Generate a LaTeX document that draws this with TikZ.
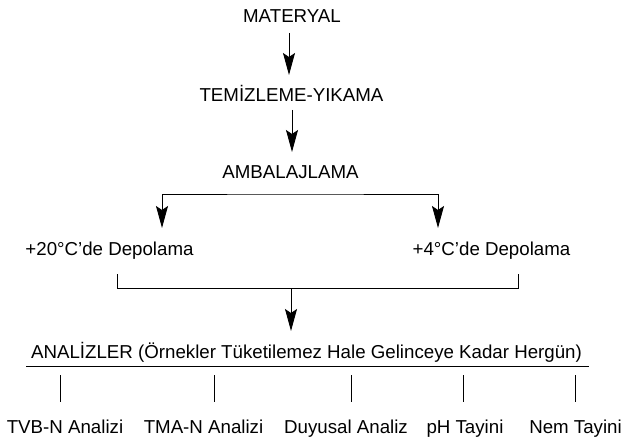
\documentclass[tikz,border=0pt]{standalone}
\usepackage{fontspec}
\setmainfont{Liberation Sans}
\usetikzlibrary{arrows.meta,calc}
\begin{document}
\begin{tikzpicture}[x=1pt,y=-1pt,
  lbl/.style={anchor=base,inner sep=0pt,font=\fontsize{18.7}{22}\selectfont},
  ln/.style={line width=0.9pt,black},
  arr/.style={ln,-{Stealth[length=22pt,width=12pt,inset=4pt]}},
  dbl/.style={ln,{Stealth[length=22pt,width=12pt,inset=4pt]}-{Stealth[length=22pt,width=12pt,inset=4pt]}}]
\useasboundingbox (0,0) rectangle (626,441);
\node[lbl] (mat) at (292,23) {MATERYAL};
\node[lbl] (tem) at (291.5,102) {TEMİZLEME-YIKAMA};
\node[lbl] (amb) at (290.5,178) {AMBALAJLAMA};
\node[lbl] (d20) at (109.5,255) {+20°C’de Depolama};
\node[lbl] (d4) at (491.5,255) {+4°C’de Depolama};
\node[lbl] (an) at (306.5,358) {ANALİZLER (Örnekler Tüketilemez Hale Gelinceye Kadar Hergün)};
\node[lbl] (b1) at (65,433) {TVB-N Analizi};
\node[lbl] (b2) at (203.5,433) {TMA-N Analizi};
\node[lbl] (b3) at (346,433) {Duyusal Analiz};
\node[lbl] (b4) at (465,433) {pH Tayini};
\node[lbl] (b5) at (575.5,433) {Nem Tayini};
% arrows
\draw[arr] ($(mat.base)+(-3,10)$) -- ($(tem.base)+(-2.5,-27)$);
\draw[arr] ($(tem.base)+(0.5,8)$) -- ($(amb.base)+(1.5,-26)$);
\draw[dbl] ($(d20.base)+(52.5,-27)$) |- ($(amb.base)+(0,16)$) -| ($(d4.base)+(-53.5,-27)$);
\draw[ln] ($(d20.base)+(7.5,19)$) -- ++(0,14) -| ($(d4.base)+(26.5,19)$);
\draw[arr] ($(amb.base)+(0.5,110)$) -- ($(an.base)+(-15.5,-27)$);
\draw[ln] ($(an.base)+(-280.5,8)$) -- ($(an.base)+(282.5,8)$);
\draw[ln] ($(b1.base)+(-5,-58)$) -- ++(0,27);
\draw[ln] ($(b2.base)+(10.5,-58)$) -- ++(0,27);
\draw[ln] ($(b3.base)+(5,-58)$) -- ++(0,27);
\draw[ln] ($(b4.base)+(-2,-58)$) -- ++(0,27);
\draw[ln] ($(b5.base)+(-0.5,-58)$) -- ++(0,27);
\end{tikzpicture}
\end{document}
